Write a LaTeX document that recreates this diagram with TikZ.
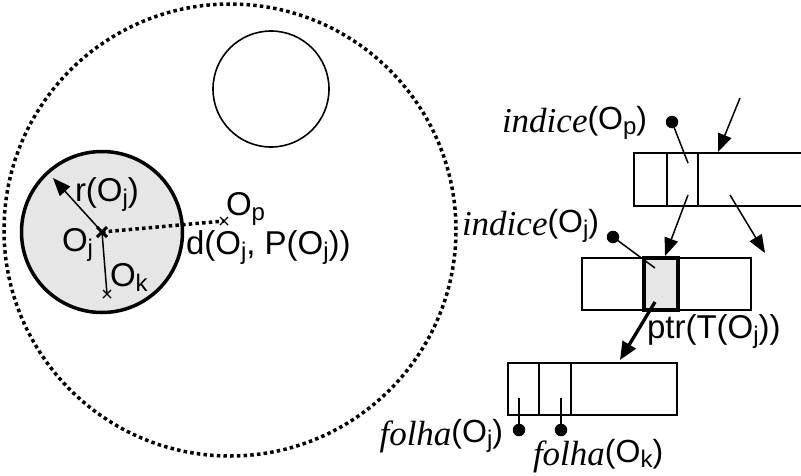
\documentclass[tikz,border=0pt]{standalone}
\usepackage{fontspec}
\setmainfont{Liberation Serif}
\setsansfont{Liberation Sans}
\usetikzlibrary{arrows.meta,shapes.misc}
\definecolor{grayfill}{HTML}{E6E6E6}
\newcommand\sublbl[1]{\raisebox{-5pt}{\fontsize{24}{26}\selectfont #1}}
\newcommand\mixlbl[2]{{\itshape\fontsize{35}{38}\selectfont #1}{\sffamily\fontsize{32}{34}\selectfont\raisebox{3pt}{(O\sublbl{#2})}}}
\begin{document}
\begin{tikzpicture}[x=1pt,y=-1pt,
 every node/.style={inner sep=0pt, outer sep=0pt},
 sanslbl/.style={anchor=base west, font=\sffamily\fontsize{33}{36}\selectfont},
 mixnode/.style={anchor=base west},
 thinln/.style={line width=1.5pt},
 boxln/.style={line width=1.6pt},
 dotln/.style={line width=3.5pt, dash pattern=on 3.5pt off 3.2pt},
 tipln/.style={thinln, -{Triangle[length=18pt,width=14pt]}},
 bigtip/.style={line width=3.3pt, -{Triangle[length=18pt,width=15pt]}},
 blob/.style={circle, fill=black, minimum size=12.5pt},
 crossmk/.style={cross out, draw, minimum size=8pt, line width=1.4pt},
]
\useasboundingbox (0,0) rectangle (801,475);

% left part
\node[circle, draw, dotln, minimum size=452pt] (outer) at (230,230) {};
\node[circle, draw, line width=1.6pt, minimum size=116pt] (empty) at (271,89) {};
\node[circle, draw, fill=grayfill, line width=3.5pt, minimum size=161pt] (grey) at (102,232) {};

\coordinate (oj) at (102,232);
\coordinate (ok) at (107,294);
\coordinate (op) at (224,221);
\coordinate (rt) at (53,178);

\draw[tipln] (oj) -- (rt);
\draw[thinln] (oj) -- (ok);
\draw[dotln] (oj) -- (op);
\node[crossmk] (xok) at (ok) {};
\node[crossmk] (xop) at (op) {};
\node[crossmk, line width=3pt, minimum size=10pt] (xoj) at (oj) {};

\node[sanslbl] (lr) at (75,201) {r(O\sublbl{j})};
\node[sanslbl] (loj) at (62,251) {O\sublbl{j}};
\node[sanslbl] (lok) at (110,286) {O\sublbl{k}};
\node[sanslbl] (lop) at (226,215) {O\sublbl{p}};
\node[sanslbl] (ld) at (186,254) {d(O\sublbl{j}, P(O\sublbl{j}))};

% box 1 (open to the right)
\draw[boxln] (801,153) -| (634,206) -- (801,206);
\draw[boxln] (667,153) -- (667,206);
\draw[boxln] (698,153) -- (698,206);
\coordinate (in1s) at (740,98);
\coordinate (in1e) at (718,152);
\draw[tipln] (in1s) -- (in1e);

\node[mixnode] (lip) at (502,132) {\mixlbl{indice}{p}};
\node[blob] (dip) at (672,122) {};
\coordinate (dipe) at (688,163);
\draw[thinln] (dip.center) -- (dipe);

% box 2
\node[draw, boxln, minimum width=169pt, minimum height=52pt] (box2) at (666.5,284) {};
\node[draw, fill=grayfill, line width=3.8pt, minimum width=34pt, minimum height=52pt] (cell) at (661,284) {};

\coordinate (a1s) at (688,195);
\coordinate (a1e) at (665,256);
\coordinate (a2s) at (730,195);
\coordinate (a2e) at (765,253);
\draw[tipln] (a1s) -- (a1e);
\draw[tipln] (a2s) -- (a2e);

\node[mixnode] (lij) at (462,235) {\mixlbl{indice}{j}};
\node[blob] (dij) at (613,237) {};
\coordinate (dije) at (655,268);
\draw[thinln] (dij.center) -- (dije);

\coordinate (ptrs) at (655,302);
\coordinate (ptre) at (620,360);
\draw[bigtip] (ptrs) -- (ptre);
\node[sanslbl] (lptr) at (647,338) {ptr(T(O\sublbl{j}))};

% box 3
\node[draw, boxln, minimum width=169pt, minimum height=52pt] (box3) at (592.5,389) {};
\draw[boxln] (539,363) -- (539,415);
\draw[boxln] (571,363) -- (571,415);
\coordinate (f1s) at (519,398);
\coordinate (f2s) at (561,398);
\node[blob] (df1) at (519,430) {};
\node[blob] (df2) at (561,430) {};
\draw[thinln] (f1s) -- (df1.center);
\draw[thinln] (f2s) -- (df2.center);

\node[anchor=base east] (lfj) at (503,445) {\mixlbl{folha}{j}};
\node[mixnode] (lfk) at (533,465) {\mixlbl{folha}{k}};
\end{tikzpicture}
\end{document}
